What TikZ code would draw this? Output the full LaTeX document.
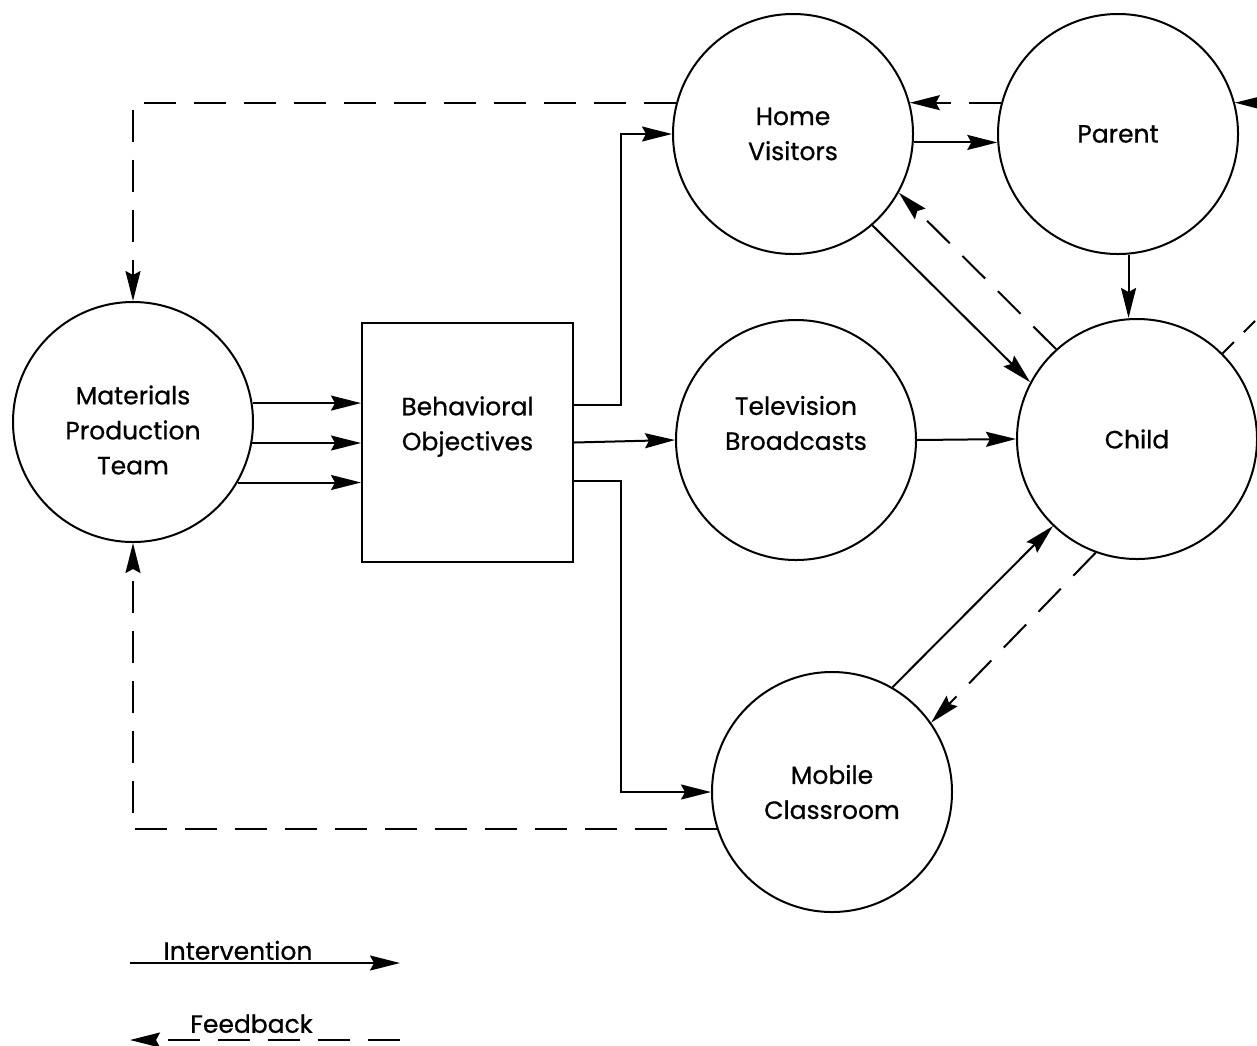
\documentclass[tikz,border=0pt]{standalone}
\usepackage{fontspec}
\setmainfont{Poppins}[FakeBold=0.7]
\usetikzlibrary{arrows.meta,positioning}

\begin{document}
\begin{tikzpicture}[x=0.5pt,y=-0.5pt,
	txt/.style={align=center,font=\fontsize{12.5}{17.5}\selectfont},
	blob/.style={circle,draw,line width=1pt,minimum size=120pt,inner sep=0pt,txt},
	block/.style={rectangle,draw,line width=1pt,minimum width=105.5pt,minimum height=119.5pt,inner sep=0pt,txt},
	flow/.style={-{Stealth[length=15pt,width=7.5pt,inset=2pt]},line width=1pt},
	feedback/.style={flow,dash pattern=on 16pt off 9pt}]
	\useasboundingbox (0,0) rectangle (1257,1045);

	\node[blob,label={[txt,yshift=-4pt]center:Materials\\Production\\Team}] (mpt) at (133,422) {};
	\node[block,label={[txt,yshift=8pt]center:Behavioral\\Objectives}] (obj) at (467.5,442.5) {};
	\node[blob] (home) at (793,134) {Home\\Visitors};
	\node[blob,label={[txt,yshift=8.5pt]center:Television\\Broadcasts}] (tv) at (796,440) {};
	\node[blob] (mobile) at (832,792) {Mobile\\Classroom};
	\node[blob] (parent) at (1118,134) {Parent};
	\node[blob] (child) at (1137,439) {Child};

	\coordinate (edgeP) at (1285,103);
	\coordinate (edgeC) at (1295,281);

	% intervention
	\draw[flow] (mpt.9) -- (mpt.9 -| obj.west);
	\draw[flow] (mpt.-10) -- (mpt.-10 -| obj.west);
	\draw[flow] (mpt.-30) -- (mpt.-30 -| obj.west);
	\draw[flow] ([yshift=19pt]obj.east) -- ++(47,0) |- (home.west);
	\draw[flow] (obj.east) -- (tv.west);
	\draw[flow] ([yshift=-19pt]obj.east) -- ++(47,0) |- (mobile.west);
	\draw[flow] (home.-4) -- (parent.184);
	\draw[flow] (parent.-85) -- (parent.-85 |- child.north);
	\draw[flow] (home.-49) -- (child.152);
	\draw[flow] (tv.east) -- (child.west);
	\draw[flow] (mobile.60) -- (child.226);
	\draw[flow] (edgeP) -- (parent.15);

	% feedback
	\draw[feedback] (parent.165) -- (home.15);
	\draw[feedback] (child.132) -- (home.-29);
	\draw[feedback] (child.250) -- (mobile.35);
	\draw[feedback] (home.165) -| (mpt.north);
	\draw[feedback] (mobile.198) -| (mpt.south);
	\draw[dash pattern=on 8pt off 7pt,line width=1pt] (child.45) -- (edgeC);

	% legend
	\coordinate (int1) at (130,963);
	\coordinate (int2) at (400,963);
	\coordinate (fb1) at (400,1040);
	\coordinate (fb2) at (130,1040);
	\draw[flow] (int1) -- node[txt,above,inner sep=1pt,pos=0.4] {Intervention} (int2);
	\draw[feedback] (fb1) -- node[txt,above,inner sep=3pt,pos=0.55] {Feedback} (fb2);
\end{tikzpicture}
\end{document}
